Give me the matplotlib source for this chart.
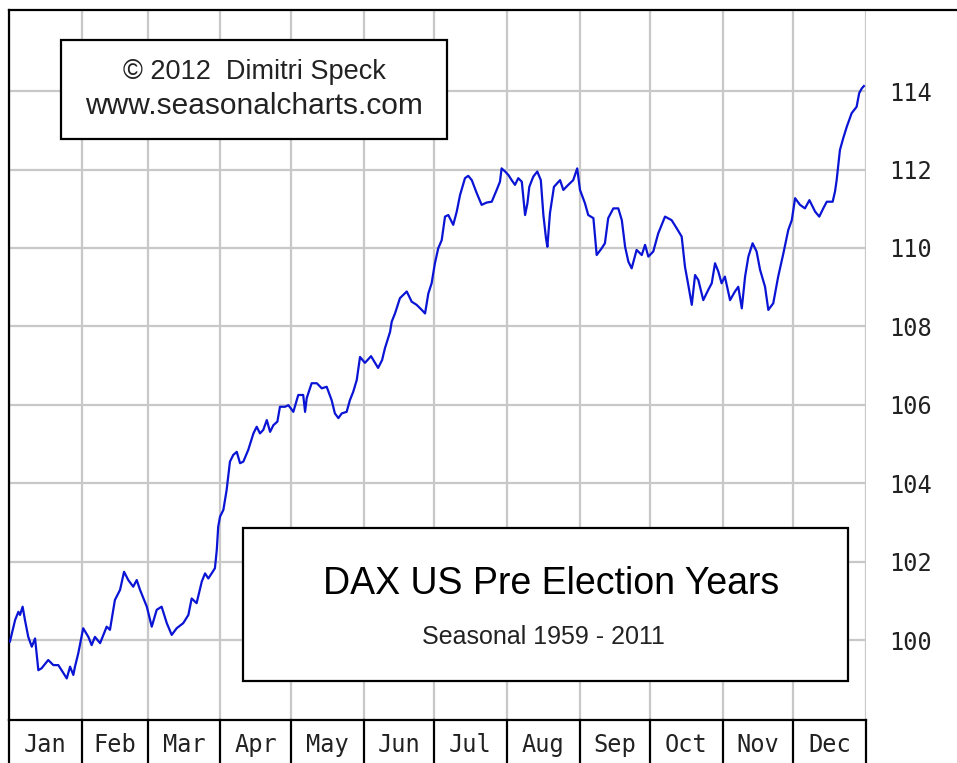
import matplotlib.pyplot as plt
from matplotlib.patches import Rectangle
from matplotlib.lines import Line2D
import matplotlib.transforms as mtransforms
import numpy as np

# data: day of year and seasonal index value
days = [0.4, 2.6, 4.0, 4.7, 5.8, 6.8, 8.2, 9.7, 11.1, 12.5,
        13.9, 16.7, 18.9, 21.0, 22.4, 24.6, 26.0, 27.4, 28.1, 29.5,
        31.6, 33.8, 35.2, 36.6, 38.8, 41.6, 43.0, 45.1, 47.3, 49.0,
        50.8, 52.9, 54.4, 55.8, 58.7, 60.8, 62.9, 65.0, 67.2, 69.3,
        71.4, 74.2, 76.4, 77.8, 79.9, 82.1, 83.5, 84.9, 87.7, 88.5,
        89.1, 89.9, 91.3, 92.7, 94.1, 95.5, 97.0, 98.4, 99.8, 101.9,
        104.1, 105.5, 106.9, 108.3, 109.8, 111.2, 112.6, 114.3, 115.4, 117.6,
        119.0, 121.1, 123.2, 125.3, 126.1, 126.8, 128.9, 131.1, 133.2, 135.3,
        137.4, 138.8, 140.3, 141.7, 143.8, 145.2, 146.6, 148.1, 149.5, 151.6,
        154.2, 157.2, 158.9, 160.1, 162.3, 163.0, 164.4, 166.5, 169.4, 171.5,
        173.6, 175.8, 177.2, 178.6, 180.0, 181.4, 182.8, 184.3, 185.7, 187.1,
        189.2, 190.7, 192.1, 194.2, 195.6, 197.1, 199.2, 201.3, 203.5, 205.6,
        207.7, 209.1, 209.8, 211.3, 212.7, 214.1, 215.5, 216.9, 218.4, 219.8,
        220.8, 221.6, 223.3, 225.0, 226.5, 227.6, 228.7, 229.3, 230.4, 232.1,
        234.7, 236.1, 238.2, 240.3, 242.0, 243.2, 245.3, 246.7, 248.9, 250.3,
        252.4, 253.8, 255.2, 257.4, 259.5, 261.0, 262.4, 263.8, 265.2, 267.3,
        269.5, 270.9, 272.3, 274.4, 276.5, 279.4, 282.2, 284.4, 286.5, 287.9,
        289.3, 290.8, 292.2, 293.6, 295.7, 297.8, 299.3, 300.7, 302.1, 303.5,
        304.9, 307.1, 309.2, 310.6, 312.1, 313.5, 314.9, 316.7, 318.4, 319.9,
        322.0, 323.4, 325.5, 327.6, 329.8, 331.9, 333.4, 334.8, 336.9, 339.0,
        340.9, 343.3, 345.1, 346.8, 348.3, 350.8, 351.8, 352.5, 353.9, 355.3,
        356.8, 358.9, 361.0, 362.1, 363.2, 364.1]
values = [99.96, 100.51, 100.72, 100.64, 100.85, 100.51, 100.08, 99.83, 100.04, 99.23,
          99.28, 99.49, 99.36, 99.36, 99.23, 99.02, 99.32, 99.11, 99.32, 99.66,
          100.30, 100.08, 99.87, 100.08, 99.92, 100.34, 100.26, 101.02, 101.28, 101.74,
          101.53, 101.36, 101.53, 101.28, 100.85, 100.34, 100.77, 100.85, 100.43, 100.13,
          100.30, 100.43, 100.64, 101.06, 100.94, 101.49, 101.70, 101.57, 101.83, 102.30,
          102.89, 103.15, 103.32, 103.83, 104.55, 104.72, 104.80, 104.51, 104.55, 104.85,
          105.27, 105.44, 105.27, 105.36, 105.61, 105.31, 105.48, 105.57, 105.95, 105.95,
          105.99, 105.82, 106.25, 106.25, 105.82, 106.17, 106.55, 106.55, 106.42, 106.46,
          106.12, 105.78, 105.66, 105.78, 105.82, 106.12, 106.33, 106.63, 107.22, 107.07,
          107.24, 106.94, 107.14, 107.44, 107.86, 108.12, 108.33, 108.72, 108.89, 108.63,
          108.55, 108.42, 108.33, 108.84, 109.10, 109.61, 109.99, 110.20, 110.80, 110.84,
          110.59, 110.93, 111.35, 111.78, 111.84, 111.73, 111.40, 111.10, 111.16, 111.18,
          111.48, 111.69, 112.03, 111.95, 111.86, 111.73, 111.61, 111.78, 111.69, 110.84,
          111.14, 111.56, 111.82, 111.95, 111.73, 110.84, 110.25, 110.03, 110.89, 111.56,
          111.73, 111.48, 111.61, 111.73, 112.03, 111.48, 111.14, 110.84, 110.76, 109.82,
          109.99, 110.12, 110.76, 111.01, 111.01, 110.71, 110.03, 109.65, 109.48, 109.95,
          109.82, 110.08, 109.78, 109.91, 110.37, 110.80, 110.71, 110.50, 110.29, 109.52,
          109.06, 108.55, 109.31, 109.18, 108.67, 108.93, 109.10, 109.61, 109.40, 109.10,
          109.27, 108.67, 108.89, 109.01, 108.46, 109.27, 109.78, 110.12, 109.91, 109.44,
          109.01, 108.42, 108.59, 109.27, 109.86, 110.46, 110.71, 111.27, 111.10, 111.01,
          111.22, 110.93, 110.80, 111.01, 111.18, 111.18, 111.44, 111.73, 112.50, 112.80,
          113.09, 113.44, 113.60, 113.95, 114.07, 114.13]

months = ['Jan', 'Feb', 'Mar', 'Apr', 'May', 'Jun', 'Jul', 'Aug', 'Sep', 'Oct', 'Nov', 'Dec']
month_starts = [0, 31, 59, 90, 120, 151, 181, 212, 243, 273, 304, 334, 365]
y_ticks = [100, 102, 104, 106, 108, 110, 112, 114]

W, H = 957, 763
fig = plt.figure(figsize=(W / 100, H / 100), dpi=100)
fig.patch.set_facecolor('white')

# plot area in pixels: x 9..866, y 10..720
ax = fig.add_axes([9 / W, (H - 720) / H, 857 / W, 710 / H])
ax.set_xlim(0, 365)
ax.set_ylim(97.96, 116.07)

grid_col = '#c8c8c8'
ax.set_xticks(month_starts)
ax.set_xticklabels([])
ax.set_yticks(y_ticks)
ax.yaxis.tick_right()
ax.set_yticklabels([str(v) for v in y_ticks], fontsize=17, family='DejaVu Sans Mono',
                   color='#222222')
ax.tick_params(axis='both', length=0)
ax.tick_params(axis='y', pad=17)
ax.grid(True, color=grid_col, linewidth=1.6)
ax.set_axisbelow(True)

for s in ['top', 'right']:
    ax.spines[s].set_visible(False)
ax.spines['left'].set_linewidth(1.6)
ax.spines['bottom'].set_linewidth(1.6)

ax.plot(days, values, color='#0a14d4', linewidth=1.6, zorder=3)

# top black border across full width
fig.add_artist(Line2D([9 / W, 1], [1 - 10 / H, 1 - 10 / H], color='black', linewidth=1.6))
# left border continues through month band
fig.add_artist(Line2D([9 / W, 9 / W], [0, (H - 720) / H], color='black', linewidth=1.6))

# month band below the axes
trans = mtransforms.blended_transform_factory(ax.transData, ax.transAxes)
for m in month_starts[1:]:
    ax.plot([m, m], [0, -0.065], color='black', linewidth=1.6, transform=trans, clip_on=False)
for i, name in enumerate(months):
    mid = (month_starts[i] + month_starts[i + 1]) / 2
    ax.text(mid, -0.035, name, transform=trans, ha='center', va='center',
            fontsize=17, family='DejaVu Sans Mono', color='#222222')

# copyright box
ax.add_patch(Rectangle((0.0607, 0.818), 0.4504, 0.140, transform=ax.transAxes,
                       facecolor='white', edgecolor='black', linewidth=1.6, zorder=5))
ax.text(0.286, 0.913, '\u00a9 2012  Dimitri Speck', transform=ax.transAxes, ha='center',
        va='center', fontsize=19.5, family='Liberation Sans', color='#222222', zorder=6)
ax.text(0.286, 0.865, 'www.seasonalcharts.com', transform=ax.transAxes, ha='center',
        va='center', fontsize=21.5, family='Liberation Sans', color='#222222', zorder=6)

# title box
ax.add_patch(Rectangle((0.273, 0.055), 0.706, 0.215, transform=ax.transAxes,
                       facecolor='white', edgecolor='black', linewidth=1.6, zorder=5))
ax.text(0.633, 0.1915, 'DAX US Pre Election Years', transform=ax.transAxes, ha='center',
        va='center', fontsize=27, family='Liberation Sans', color='black', zorder=6)
ax.text(0.624, 0.117, 'Seasonal 1959 - 2011', transform=ax.transAxes, ha='center',
        va='center', fontsize=18, family='Liberation Sans', color='#222222', zorder=6)

fig.savefig('out.png', dpi=100)
